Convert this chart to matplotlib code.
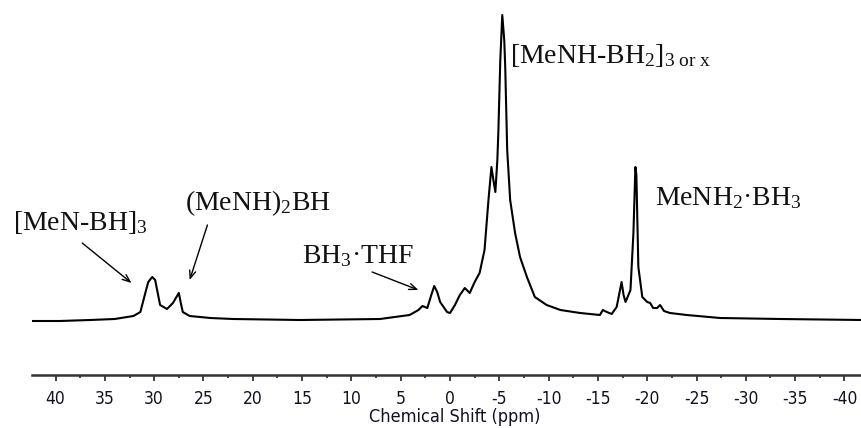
import matplotlib
matplotlib.use("Agg")
import matplotlib.pyplot as plt
from matplotlib.ticker import MultipleLocator
from matplotlib import font_manager

# ---- data ----
shift_ppm = [42.3, 39.6, 36.5, 34.0, 32.1, 31.4, 30.9, 30.6, 30.2, 29.9, 29.7, 29.4,
             28.7, 28.1, 27.8, 27.5, 27.3, 27.1, 26.4, 24.3, 22.0, 15.2, 7.1, 4.1,
             3.2, 2.8, 2.3, 1.9, 1.6, 1.3, 1.0, 0.3, 0.0, -0.5, -1.0, -1.5, -2.0,
             -2.5, -3.0, -3.5, -3.9, -4.2, -4.4, -4.6, -4.8, -4.9, -5.1, -5.3, -5.5,
             -5.6, -5.8, -6.1, -6.6, -7.1, -7.8, -8.6, -9.8, -11.2, -13.2, -15.2,
             -15.5, -15.9, -16.4, -16.9, -17.2, -17.4, -17.6, -17.8, -18.3, -18.6,
             -18.8, -18.9, -19.1, -19.5, -20.0, -20.3, -20.6, -21.0, -21.3, -21.7,
             -22.3, -24.0, -27.4, -33.5, -41.8]
intensity = [0, 0, 1, 2, 5, 9, 28, 39, 44, 41, 31, 16,
             12, 18, 23, 28, 18, 9, 5, 3, 2, 1, 2, 6,
             11, 15, 13, 26, 35, 29, 19, 9, 8, 16, 26, 33, 28,
             39, 48, 71, 121, 154, 141, 129, 161, 188, 261, 306, 281,
             254, 171, 121, 88, 64, 44, 24, 16, 11, 8, 6,
             11, 9, 7, 14, 29, 39, 26, 19, 31, 88,
             154, 146, 54, 24, 19, 18, 13, 13, 16, 10,
             8, 6, 3, 2, 1]

major_ticks = list(range(40, -45, -5))
tick_labels = [str(t) for t in major_ticks]
x_label = "Chemical Shift (ppm)"

# annotation labels: (text, text x, text baseline y), arrows: (tail, head)
labels = [r"[MeNH-BH$_2$]$_{\mathrm{3\ or\ x}}$",
          r"MeNH$_2$·BH$_3$",
          r"[MeN-BH]$_3$",
          r"(MeNH)$_2$BH",
          r"BH$_3$·THF"]
label_x = [-6.1, -20.8, 44.3, 26.9, 15.0]
label_y = [258, 116, 91, 111, 58]
arrow_tail_x = [37.3, 24.6, 7.9]
arrow_tail_y = [78, 96, 49]
arrow_head_x = [32.3, 26.4, 3.2]
arrow_head_y = [38, 41, 31]

# ---- figure ----
plt.rcParams["mathtext.fontset"] = "custom"
plt.rcParams["mathtext.rm"] = "Liberation Serif"
plt.rcParams["mathtext.it"] = "Liberation Serif:italic"
plt.rcParams["mathtext.bf"] = "Liberation Serif:bold"

# a condensed sans face if available, else DejaVu Sans
names = {f.name for f in font_manager.fontManager.ttflist}
cond = [f for f in font_manager.fontManager.ttflist
        if f.name == "DejaVu Sans" and f.stretch in ("condensed", 87.5, "semi-condensed")]
if "Liberation Sans Narrow" in names:
    tick_family, tick_stretch, tick_size = "Liberation Sans Narrow", "normal", 13
elif cond:
    tick_family, tick_stretch, tick_size = "DejaVu Sans", "condensed", 12.5
else:
    tick_family, tick_stretch, tick_size = "DejaVu Sans", "normal", 11.5
tick_fp = font_manager.FontProperties(family=tick_family, stretch=tick_stretch,
                                      size=tick_size)
label_fp = font_manager.FontProperties(family=tick_family, stretch=tick_stretch,
                                       size=tick_size + 0.5)

fig = plt.figure(figsize=(8.62, 4.28), dpi=100)
ax = fig.add_axes([32 / 862, 53 / 428, 830 / 862, 370 / 428])
ax.plot(shift_ppm, intensity, color="black", lw=1.5, solid_joinstyle="round")
ax.set_xlim(42.39, -41.78)
ax.set_ylim(-54, 316)

for s in ("left", "right", "top"):
    ax.spines[s].set_visible(False)
ax.spines["bottom"].set_linewidth(1.8)
ax.spines["bottom"].set_color("#333333")
ax.set_yticks([])
ax.set_xticks(major_ticks)
ax.set_xticklabels(tick_labels)
ax.xaxis.set_minor_locator(MultipleLocator(2.5))
ax.tick_params(axis="x", which="major", length=4.5, width=1.2, color="#222222",
               pad=6, labelcolor="#111122")
ax.tick_params(axis="x", which="minor", length=2.2, width=1.2, color="#222222")
for lab in ax.get_xticklabels():
    lab.set_fontproperties(tick_fp)
ax.set_xlabel(x_label, fontproperties=label_fp, color="#111122")
ax.xaxis.set_label_coords((455 - 32) / 830, -0.088)
ax.xaxis.label.set_verticalalignment("top")

for t, x, y in zip(labels, label_x, label_y):
    ax.text(x, y, t, fontsize=20, family="Liberation Serif", ha="left",
            va="baseline", color="#111111", clip_on=False)

for tx, ty, hx, hy in zip(arrow_tail_x, arrow_tail_y, arrow_head_x, arrow_head_y):
    ax.annotate("", xy=(hx, hy), xytext=(tx, ty),
                arrowprops=dict(arrowstyle="->,head_length=0.55,head_width=0.22",
                                color="black", lw=1.0, shrinkA=0, shrinkB=0))

fig.savefig("out.png", dpi=100)
